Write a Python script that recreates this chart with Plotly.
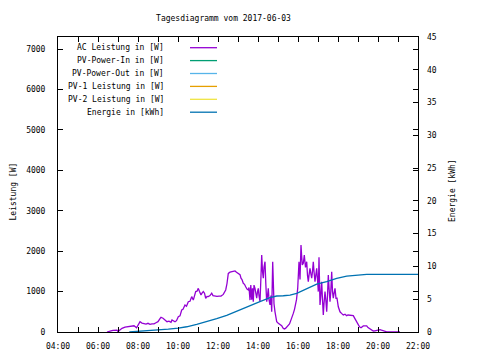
import plotly.graph_objects as go

# ---------------- data ----------------
ac_time_h = [6.45, 6.55, 6.65, 6.75, 6.85, 6.95, 7.0, 7.1, 7.2, 7.35, 7.5, 7.65, 7.8, 7.93, 8.0,
             8.1, 8.2, 8.3, 8.4, 8.5, 8.6, 8.7, 8.8, 8.9, 9.0, 9.1, 9.15, 9.25, 9.35, 9.45,
             9.55, 9.65, 9.7, 9.8, 9.85, 9.925, 10.015, 10.1, 10.185, 10.25, 10.35, 10.425, 10.515,
             10.6, 10.685, 10.765, 10.825, 10.885, 10.95, 11.015, 11.075, 11.15, 11.2, 11.265,
             11.325, 11.385, 11.45, 11.515, 11.6, 11.685, 11.75, 11.85, 11.95, 12.05, 12.15,
             12.265, 12.385, 12.45, 12.515, 12.6, 12.685, 12.765, 12.85, 12.925, 13.015, 13.1,
             13.15, 13.2, 13.265, 13.325, 13.385, 13.45, 13.515, 13.55, 13.6, 13.64, 13.685,
             13.725, 13.765, 13.8, 13.85, 13.935, 13.975, 14.015, 14.05, 14.1, 14.15, 14.185,
             14.225, 14.265, 14.3, 14.35, 14.39, 14.435, 14.475, 14.515, 14.55, 14.6, 14.65,
             14.685, 14.735, 14.765, 14.8, 14.85, 14.935, 15.015, 15.1, 15.185, 15.25, 15.315,
             15.375, 15.435, 15.515, 15.575, 15.65, 15.7, 15.765, 15.825, 15.885, 15.925, 15.985,
             16.025, 16.05, 16.1, 16.15, 16.18, 16.215, 16.265, 16.315, 16.375, 16.435, 16.475,
             16.515, 16.55, 16.6, 16.64, 16.685, 16.725, 16.765, 16.8, 16.85, 16.89, 16.935,
             16.975, 17.015, 17.05, 17.075, 17.1, 17.14, 17.185, 17.225, 17.265, 17.3, 17.35,
             17.39, 17.435, 17.475, 17.515, 17.55, 17.6, 17.64, 17.685, 17.725, 17.765, 17.8,
             17.85, 17.9, 17.95, 18.015, 18.05, 18.1, 18.175, 18.265, 18.35, 18.435, 18.5, 18.6,
             18.7, 18.765, 18.825, 18.885, 18.95, 19.015, 19.075, 19.15, 19.2, 19.265, 19.35,
             19.435, 19.5, 19.6, 19.675, 19.765, 19.85, 19.935, 20.0, 20.1, 20.175, 20.265,
             20.35, 20.435, 20.55, 20.7, 20.9, 21.1]
ac_power_w = [0, 20, 30, 40, 35, 45, 10, 60, 90, 120, 130, 135, 155, 105, 180,
              255, 220, 210, 195, 215, 190, 200, 200, 230, 255, 330, 365, 340, 290, 255,
              270, 240, 300, 280, 255, 280, 380, 400, 545, 560, 670, 640, 750,
              760, 875, 790, 900, 1000, 1010, 1080, 1000, 915, 960, 1000,
              960, 835, 880, 875, 900, 960, 900, 890, 880, 890, 890,
              930, 1040, 1200, 1450, 1480, 1490, 1510, 1510, 1480, 1450, 1420,
              1330, 1300, 1205, 1180, 1120, 1060, 1040, 1100, 790, 1160, 800,
              1080, 750, 1160, 1080, 835, 1000, 1080, 900, 750, 1400, 1905,
              1500, 1330, 1600, 1740, 1200, 750, 900, 1080, 800, 670, 900,
              500, 1740, 915, 700, 500, 255, 215, 180, 155, 100, 75,
              90, 130, 175, 200, 300, 360, 460, 560, 670, 800, 1080,
              1450, 1740, 1300, 2150, 1900, 1660, 1700, 1905, 1600, 1740, 1400,
              1245, 1400, 1575, 1450, 1330, 1500, 1740, 1500, 1245, 1400, 1575,
              1300, 1000, 1850, 1200, 670, 900, 1245, 800, 420, 700, 1000,
              800, 500, 900, 1410, 1100, 750, 1000, 1490, 1000, 835, 950,
              1080, 835, 835, 625, 560, 500, 460, 420, 440, 405, 420, 420,
              410, 405, 350, 300, 230, 175, 130, 105, 120, 150, 150,
              150, 110, 75, 60, 25, 30, 40, 50, 60, 45, 25,
              10, 5, 5, 0, 0, 0]

energy_time_h = [7.565, 8.35, 9.015, 9.515, 10.015, 10.435, 10.935, 11.435, 11.935, 12.435,
                 12.935, 13.435, 14.065, 14.6, 14.935, 15.265, 15.6, 15.935, 16.265, 16.6,
                 16.935, 17.435, 17.935, 18.435, 18.935, 19.435, 20.6, 22.0]
energy_kwh = [0, 0.15, 0.3, 0.45, 0.6, 0.8, 1.17, 1.57, 2.03, 2.54,
              3.2, 3.86, 4.6, 5.23, 5.49, 5.53, 5.64, 5.9, 6.4, 6.9,
              7.3, 7.67, 8.18, 8.54, 8.69, 8.8, 8.8, 8.8]

# series with no visible data on this day
pv_in_w = []
pv_out_w = []
pv1_w = []
pv2_w = []

legend_names = ["AC Leistung in [W]", "PV-Power-In in [W]", "PV-Power-Out in [W]",
                "PV-1 Leistung in [W]", "PV-2 Leistung in [W]", "Energie in [kWh]"]
legend_colors = ["#9400D3", "#009E73", "#56B4E9", "#E69F00", "#F0E442", "#0072B2"]

x_tick_vals = list(range(4, 23))
x_tick_text = [f"{h:02d}:00" if h % 2 == 0 else "" for h in x_tick_vals]
y_tick_vals = [0, 1000, 2000, 3000, 4000, 5000, 6000, 7000]
y2_tick_vals = [0, 5, 10, 15, 20, 25, 30, 35, 40, 45]

title_text = "Tagesdiagramm vom 2017-06-03"
ylabel_text = "Leistung [W]"
y2label_text = "Energie [kWh]"

# ---------------- figure ----------------
FONT = "DejaVu Sans Mono"
OFF = 8  # page body margin of the html page
W, H = 464, 344
# plot area in page pixels
PL, PR, PT, PB = 58, 418, 37, 332
L, R, T, B = PL - OFF, PR - OFF, PT - OFF, PB - OFF

fig = go.Figure()
fig.add_trace(go.Scatter(x=ac_time_h, y=ac_power_w, mode="lines",
                         line=dict(color=legend_colors[0], width=1.3), showlegend=False))
for ys, c in zip([pv_in_w, pv_out_w, pv1_w, pv2_w], legend_colors[1:5]):
    fig.add_trace(go.Scatter(x=[], y=ys, mode="lines", line=dict(color=c, width=1.3),
                             showlegend=False))
fig.add_trace(go.Scatter(x=energy_time_h, y=energy_kwh, mode="lines", yaxis="y2",
                         line=dict(color=legend_colors[5], width=1.3), showlegend=False))

def px_x(x):
    return (x - PL) / (PR - PL)

def px_y(y):
    return (PB - y) / (PB - PT)

shapes = []
annotations = []
leg_y0 = 47.7
leg_dy = 12.9
for i, (name, col) in enumerate(zip(legend_names, legend_colors)):
    yy = leg_y0 + i * leg_dy
    annotations.append(dict(x=px_x(166), y=px_y(yy), xref="paper", yref="paper",
                            text=name, showarrow=False, xanchor="right", yanchor="middle",
                            font=dict(family=FONT, size=8, color="black")))
    shapes.append(dict(type="line", xref="paper", yref="paper",
                       x0=px_x(190), x1=px_x(217), y0=px_y(yy), y1=px_y(yy),
                       line=dict(color=col, width=1.3)))

annotations.append(dict(x=px_x(13.5), y=px_y(192), xref="paper", yref="paper",
                        text=ylabel_text, showarrow=False, textangle=-90,
                        xanchor="center", yanchor="middle",
                        font=dict(family=FONT, size=8, color="black")))
annotations.append(dict(x=px_x(452), y=px_y(191), xref="paper", yref="paper",
                        text=y2label_text, showarrow=False, textangle=-90,
                        xanchor="center", yanchor="middle",
                        font=dict(family=FONT, size=8, color="black")))

fig.update_layout(
    width=W, height=H,
    margin=dict(l=L, r=W - R, t=T, b=H - B, pad=0, autoexpand=False),
    paper_bgcolor="white", plot_bgcolor="white",
    font=dict(family=FONT, size=8, color="black"),
    title=dict(text=title_text, x=(223.5 - OFF) / W, y=1 - (18 - OFF) / H,
               xref="container", yref="container",
               xanchor="center", yanchor="middle", font=dict(family=FONT, size=8)),
    xaxis=dict(range=[4, 22], tickvals=x_tick_vals, ticktext=x_tick_text,
               ticks="inside", ticklen=5, tickcolor="black", showline=True,
               linecolor="black", linewidth=1, mirror="ticks", showgrid=False,
               zeroline=False, ticklabelstandoff=6, automargin=False),
    yaxis=dict(range=[0, 7300], tickvals=y_tick_vals, ticks="inside", ticklen=5,
               tickcolor="black", showline=True, linecolor="black", linewidth=1,
               mirror="ticks", showgrid=False, zeroline=False, ticklabelstandoff=10,
               automargin=False),
    yaxis2=dict(range=[0, 45], tickvals=y2_tick_vals, overlaying="y", side="right",
                ticks="inside", ticklen=5, tickcolor="black", showline=False,
                showgrid=False, zeroline=False, ticklabelstandoff=8, automargin=False),
    shapes=shapes, annotations=annotations,
)

fig.write_html("out.html")
